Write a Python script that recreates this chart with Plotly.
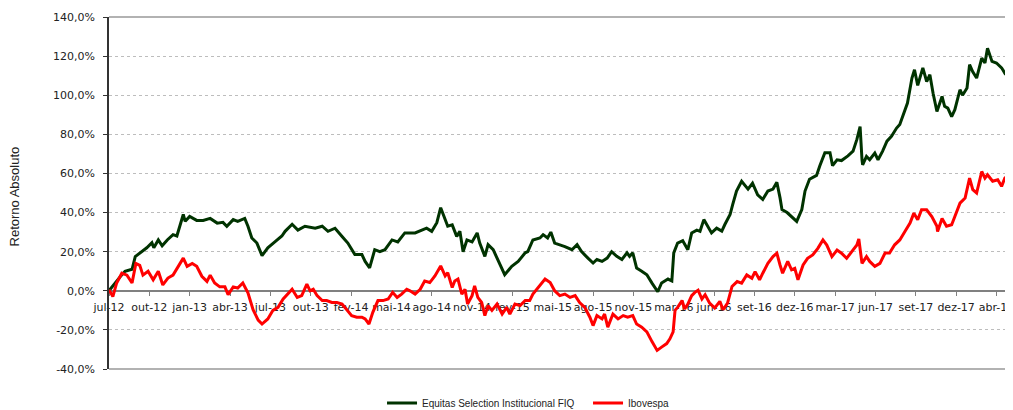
import plotly.graph_objects as go

# ---- data (trading-day index, % return) ----
tick_labels = ["jul-12", "out-12", "jan-13", "abr-13", "jul-13", "out-13", "fev-14",
               "mai-14", "ago-14", "nov-14", "fev-15", "mai-15", "ago-15", "nov-15",
               "mar-16", "jun-16", "set-16", "dez-16", "mar-17", "jun-17", "set-17",
               "dez-17", "abr-18"]
days_per_label = 63

y_ticks = [140, 120, 100, 80, 60, 40, 20, 0, -20, -40]
y_tick_labels = ["140,0%", "120,0%", "100,0%", "80,0%", "60,0%", "40,0%", "20,0%",
                 "0,0%", "-20,0%", "-40,0%"]

equitas_day = [0, 9, 17, 25, 36, 41, 48, 59, 67, 70,
               77, 83, 91, 100, 106, 116, 119, 126, 137, 147,
               158, 169, 178, 184, 194, 201, 212, 217, 223, 231,
               239, 248, 259, 270, 275, 286, 295, 306, 322, 333,
               342, 353, 364, 373, 384, 395, 400, 407, 415, 423,
               431, 442, 451, 462, 478, 489, 496, 504, 512, 518,
               525, 529, 536, 543, 548, 553, 559, 567, 575, 579,
               587, 592, 600, 607, 618, 629, 639, 650, 654, 662,
               673, 678, 685, 690, 696, 712, 723, 731, 738, 748,
               756, 762, 770, 778, 785, 793, 801, 809, 813, 818,
               824, 832, 840, 848, 857, 863, 873, 879, 882, 888,
               896, 904, 910, 918, 923, 929, 941, 949, 957, 962,
               970, 974, 980, 988, 993, 998, 1005, 1013, 1021, 1029,
               1037, 1043, 1048, 1051, 1059, 1066, 1074, 1082, 1087, 1094,
               1105, 1110, 1118, 1126, 1130, 1137, 1144, 1154, 1162, 1168,
               1173, 1176, 1177, 1183, 1188, 1196, 1201, 1208, 1215, 1222,
               1230, 1235, 1240, 1247, 1254, 1258, 1263, 1271, 1277, 1282,
               1287, 1293, 1301, 1305, 1310, 1316, 1321, 1329, 1333, 1340,
               1344, 1349, 1355, 1363, 1368, 1372, 1379, 1386, 1394, 1399,
               1405]
equitas_ret = [0, 4, 7, 10, 11, 17.5, 19.3, 22, 24.6, 22,
               26, 23, 26, 28.7, 28, 39, 35.5, 38, 36, 36,
               37, 34.6, 35, 33, 36.4, 35.5, 37, 33, 27, 24.4,
               18, 22, 25, 28, 30.4, 34, 31, 33, 32, 33,
               30.4, 32, 27.8, 24.4, 18.5, 18.5, 15, 11.7, 21, 20,
               21, 26, 25, 29.6, 29.6, 31, 32, 30.4, 34.8, 42.5,
               36.4, 33, 33.7, 27.8, 30.4, 20, 26, 25, 29.6, 24.4,
               17.6, 23.6, 21, 16, 8.2, 12.5, 15, 19.4, 20, 26,
               27, 28.7, 27, 30, 24.4, 22.6, 21, 23.6, 20, 16.7,
               14.2, 16, 15, 16.7, 20, 17.6, 16, 19.4, 17.6, 19.4,
               11.6, 10, 8.2, 3.9, -0.5, 4, 6, 5, 19.4, 24.4,
               25.6, 21, 29.6, 31, 30.4, 36.4, 29.6, 32, 30.5, 34,
               39, 44, 51, 56, 54, 52, 55, 49, 46.7, 51,
               52, 55.5, 47.5, 41.5, 40, 38, 35.5, 41.5, 51, 57,
               59, 63.8, 70.6, 70.6, 64, 67, 66.6, 69, 71.4, 77.4,
               84, 67, 64.4, 68.7, 67, 70.4, 67, 71.3, 76.5, 79,
               83.2, 85, 90, 96, 108.8, 113, 105, 114, 107, 110.5,
               101, 91.7, 99.4, 94.3, 93.4, 89, 92.6, 102.8, 100, 103.7,
               115.6, 112, 108.8, 119, 116.5, 124, 117.3, 116.5, 114, 111.3,
               113]

ibov_day = [0, 6, 12, 20, 28, 36, 42, 48, 53, 61,
            69, 77, 84, 92, 100, 108, 116, 122, 130, 137,
            145, 153, 158, 165, 173, 181, 186, 194, 201, 209,
            217, 225, 233, 239, 248, 256, 264, 272, 279, 286,
            294, 301, 309, 314, 319, 325, 333, 340, 348, 356,
            364, 372, 379, 387, 395, 400, 406, 412, 420, 428,
            436, 443, 450, 457, 465, 470, 478, 486, 493, 501,
            509, 518, 525, 529, 536, 540, 545, 551, 556, 560,
            567, 571, 576, 582, 587, 592, 598, 606, 614, 621,
            626, 634, 642, 650, 657, 662, 670, 681, 689, 696,
            704, 712, 720, 728, 735, 743, 751, 756, 762, 770,
            774, 779, 787, 795, 803, 810, 818, 824, 832, 840,
            848, 856, 863, 871, 876, 881, 884, 888, 895, 899,
            904, 910, 915, 920, 926, 931, 938, 946, 954, 959,
            966, 973, 981, 988, 996, 1004, 1009, 1016, 1021, 1029,
            1037, 1043, 1048, 1052, 1060, 1066, 1071, 1076, 1084, 1091,
            1099, 1107, 1115, 1121, 1129, 1137, 1144, 1152, 1160, 1168,
            1171, 1176, 1183, 1188, 1196, 1204, 1212, 1219, 1227, 1235,
            1243, 1251, 1257, 1263, 1269, 1277, 1285, 1293, 1294, 1301,
            1308, 1316, 1321, 1329, 1337, 1344, 1349, 1355, 1363, 1368,
            1372, 1380, 1388, 1394, 1399, 1405]
ibov_ret = [0.5, -3, 4, 9, 8, 4, 14, 13, 8, 10,
            5.6, 10, 3, 6.5, 8, 12.5, 16.7, 12.5, 14, 12.5,
            7.4, 4.8, 8, 4, 2, 2, -2, 2, 1.4, 4,
            -1, -9.7, -15, -17, -14.4, -10, -8.5, -4.2, -1.7, 0.8,
            -3.4, -2.5, 3.4, 0, 0.8, -2.5, -5, -5, -6, -6,
            -6.8, -10, -12.7, -13.5, -13.5, -14.4, -17, -11, -5, -5,
            -4.2, -0.8, -3.4, -1.7, 0.8, 0, -1.7, 0.8, 5, 4.2,
            7.6, 12.7, 7.6, 9.3, 1.7, 5, 6, -1.7, 0.8, -6.8,
            -2.5, 2.5, -3.4, -6, -12.7, -7.6, -10, -6.8, -11.9, -8.5,
            -11.9, -6.8, -7.6, -5, -5, -1.7, 1.7, 6, 4.2, 0,
            -2.5, -1.7, -3.4, -2.5, -6, -8.5, -13.5, -17.8, -12.7, -14.4,
            -11.9, -18.6, -11.9, -14.4, -12.7, -13.5, -12.7, -17, -18.6, -21,
            -26, -30.5, -28.8, -27, -24.6, -21, -10, -8.5, -5, -9.3,
            -6.8, -2.5, -0.8, 0.3, -4.2, -2, -6.3, -8.8, -5.4, -9.7,
            -6.3, 2.2, 4.7, 3.9, 8.1, 6.4, 9.8, 5.6, 9, 14,
            17.5, 19.2, 13.2, 9, 15, 10.7, 11.5, 5.6, 13.2, 16.6,
            18.3, 21.7, 26, 23.4, 17.5, 20.8, 19.2, 16.6, 20, 23.4,
            26.5, 14, 17.5, 15, 12.5, 14, 19.3, 19.3, 23.5, 26,
            30.3, 34.6, 39.7, 36.3, 41.4, 41.4, 38, 33, 30.3, 37,
            33, 33.8, 38, 44.8, 47.4, 57.6, 51.7, 50, 61, 57.6,
            59.3, 56, 56.8, 53.4, 57.6, 59.3]

series_names = ["Equitas Selection Institucional FIQ", "Ibovespa"]
series_colors = ["#003300", "#ff0000"]

# ---- figure ----
fig = go.Figure()
fig.add_trace(go.Scatter(x=equitas_day, y=equitas_ret, mode="lines", name=series_names[0],
                         line=dict(color=series_colors[0], width=3)))
fig.add_trace(go.Scatter(x=ibov_day, y=ibov_ret, mode="lines", name=series_names[1],
                         line=dict(color=series_colors[1], width=3)))

tick_vals = [i * days_per_label for i in range(len(tick_labels))]
y_min, y_max = y_ticks[-1], y_ticks[0]

# page body adds an 8px offset, so the figure is 8px smaller on each side
fig.update_layout(
    width=1005, height=402,
    margin=dict(l=101, r=5, t=9, b=41, autoexpand=False),
    paper_bgcolor="white", plot_bgcolor="white",
    font=dict(family="DejaVu Sans", size=11, color="#222222"),
    showlegend=True,
    legend=dict(orientation="h", x=0.3037, xanchor="left", y=-0.0966, yanchor="middle",
                font=dict(family="Liberation Sans", size=10, color="#222222"),
                bgcolor="rgba(0,0,0,0)", itemwidth=30, entrywidth=161),
    xaxis=dict(range=[0, 1404], tickmode="array", tickvals=tick_vals, ticktext=tick_labels,
               tickangle=0, automargin=False, ticklabeloverflow="allow", layer="below traces",
               showgrid=False, zeroline=False, showline=True, linecolor="#808080", linewidth=1.5,
               ticks="outside", ticklen=4, tickcolor="#808080", anchor="free",
               position=(0 - y_min) / (y_max - y_min), ticklabelstandoff=2),
    yaxis=dict(range=[y_min, y_max], tickmode="array", tickvals=y_ticks, ticktext=y_tick_labels,
               automargin=False,
               showgrid=True, gridcolor="#bdbdbd", griddash="dot", gridwidth=1,
               zeroline=False, showline=True, linecolor="#333333", linewidth=1.5,
               ticks="outside", ticklen=4, tickcolor="#333333", ticklabelstandoff=6),
)

# plot-area frame (top, right, bottom)
for x0, y0, x1, y1 in [(0, 1, 1, 1), (1, 0, 1, 1), (0, 0, 1, 0)]:
    fig.add_shape(type="line", xref="paper", yref="paper", x0=x0, y0=y0, x1=x1, y1=y1,
                  line=dict(color="#999999", width=1.5), layer="above")

fig.add_annotation(text="Retorno Absoluto", textangle=-90, xref="paper", yref="paper",
                   x=-0.1046, y=0.49, xanchor="center", yanchor="middle", showarrow=False,
                   font=dict(family="Liberation Sans", size=13, color="#222222"))

fig.write_html("out.html")
